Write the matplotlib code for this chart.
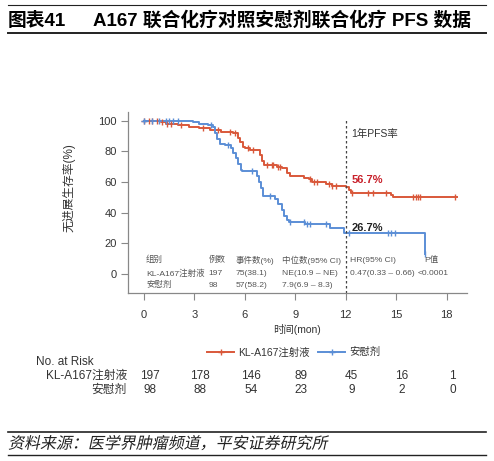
import numpy as np
import matplotlib
matplotlib.use('Agg')
import matplotlib.pyplot as plt
from matplotlib import transforms
from matplotlib.textpath import TextPath
from matplotlib.patches import PathPatch
from matplotlib.font_manager import FontProperties

plt.rcParams['font.family'] = ['Liberation Sans', 'Noto Sans CJK SC', 'DejaVu Sans']

# KM step data (month, PFS %)
red_t = [0, 1.0, 1.3, 2.0, 2.7, 3.3, 3.9, 4.6, 5.3, 5.6, 5.7, 5.9, 6.0, 6.3, 6.9, 7.0, 7.15,
         7.9, 8.2, 8.5, 8.7, 9.5, 9.8, 10.0, 10.8, 11.2, 12.0, 12.2, 12.3, 14.7, 14.8, 18.6]
red_v = [100, 99, 98, 97, 96, 95, 94, 93, 92, 89, 86, 83, 82, 81, 78, 74, 71,
         70, 69, 66, 64, 63, 62, 60, 58.5, 57.5, 56.7, 55, 53, 51.5, 50, 50]
blue_t = [0, 2.9, 3.3, 3.8, 4.1, 4.25, 4.35, 4.5, 4.8, 5.2, 5.3, 5.45, 5.6, 5.75, 5.85,
          6.75, 6.85, 6.95, 7.1, 7.8, 8.0, 8.2, 8.35, 8.5, 8.6, 9.6, 11.05, 11.9, 16.7]
blue_v = [100, 99, 98, 97, 96, 92, 88, 85, 84, 82, 79, 76, 72, 68, 67,
          64, 60, 56, 51, 49, 46, 42, 38, 35, 34, 32.5, 30, 26.7, 13]

red_cens = [0.3, 0.5, 0.8, 1.1, 1.4, 1.6, 2.2, 3.5, 4.4, 5.1, 5.4, 6.2, 6.5, 7.3, 7.6, 7.7,
            8.0, 8.1, 9.9, 10.1, 10.3, 11.0, 11.2, 11.4, 12.4, 13.3, 13.6, 14.4, 16.0,
            16.2, 16.3, 16.4, 18.5]
blue_cens = [0.5, 0.9, 1.3, 1.5, 1.7, 2.0, 4.0, 5.0, 6.4, 7.5, 8.7, 9.5, 9.7, 9.9, 10.8,
             12.2, 14.5, 14.7, 14.9, 16.7]

xticks = [0, 3, 6, 9, 12, 15, 18]
risk_red = [197, 178, 146, 89, 45, 16, 1]
risk_blue = [98, 88, 54, 23, 9, 2, 0]

group_names = ['KL-A167注射液', '安慰剂']
table_head = ['组别', '例数', '事件数(%)', '中位数(95% CI)', 'HR(95% CI)', 'P值']
table_rows = [['KL-A167注射液', '197', '75(38.1)', 'NE(10.9 – NE)', '0.47(0.33 – 0.66)', '<0.0001'],
              ['安慰剂', '98', '57(58.2)', '7.9(6.9 – 8.3)', '', '']]
source = '资料来源：医学界肿瘤频道，平安证券研究所'

red_c = '#d9583a'
blue_c = '#5b8ed6'

fig = plt.figure(figsize=(4.94, 4.61), dpi=100)

# header / footer
fig.add_artist(plt.Line2D([0.016, 0.984], [1 - 5 / 461] * 2, color='#222', lw=0.8))
fig.add_artist(plt.Line2D([0.016, 0.984], [1 - 33 / 461] * 2, color='#222', lw=1.4))
fig.text(0.016, 1 - 21 / 461, '图表41', fontsize=13.5, fontweight='bold', va='center')
fig.text(0.188, 1 - 21 / 461, 'A167 联合化疗对照安慰剂联合化疗 PFS 数据', fontsize=13.5,
         fontweight='bold', va='center')
fig.add_artist(plt.Line2D([0.016, 0.984], [1 - 432 / 461] * 2, color='#222', lw=1.2))
fig.add_artist(plt.Line2D([0.016, 0.984], [1 - 455 / 461] * 2, color='#222', lw=1.0))

# slanted source line (CJK font has no italic face)
try:
    tp = TextPath((0, 0), source, size=11.5 * 100 / 72,
                  prop=FontProperties(family=['Noto Sans CJK SC', 'DejaVu Sans']))
    src = PathPatch(tp, color='#222', lw=0,
                    transform=transforms.Affine2D().skew_deg(12, 0).translate(8, 12.5))
    fig.add_artist(src)
except Exception:
    fig.text(0.016, 1 - 443 / 461, source, fontsize=11.5, va='center')

ax = fig.add_axes([0.259, 0.364, 0.686, 0.394])


def surv_at(ts, vs, t):
    i = np.searchsorted(ts, t, side='right') - 1
    return np.array(vs)[i]


ax.step(red_t, red_v, where='post', color=red_c, lw=1.4, label=group_names[0],
        marker='+', markevery=[0], ms=4)
ax.step(blue_t, blue_v, where='post', color=blue_c, lw=1.4, label=group_names[1],
        marker='+', markevery=[0], ms=4)
ax.plot(red_cens, surv_at(red_t, red_v, red_cens), ls='none', marker='|', ms=4,
        mew=1.0, color=red_c)
ax.plot(blue_cens, surv_at(blue_t, blue_v, blue_cens), ls='none', marker='|', ms=4,
        mew=1.0, color=blue_c)

ax.vlines(12, -12.4, 101, colors='#444', linestyles=(0, (2, 2)), lw=0.9)
ax.text(12.35, 91.5, '1年PFS率', fontsize=7.5, color='#333', va='center')
ax.text(12.35, 61.5, '56.7%', fontsize=8, fontweight='bold', color='#c8202a', va='center')
ax.text(12.35, 30, '26.7%', fontsize=8, fontweight='bold', color='#222', va='center')

col_x = [0.13, 3.83, 5.45, 8.2, 12.25, 16.3]
row_y = [9.1, 0.5, -7.2]
for cx, txt in zip(col_x, table_head):
    if txt == 'P值':
        cx = 16.68
    ax.text(cx, row_y[0], txt, fontsize=6.1, color='#555', va='center')
for r, row in enumerate(table_rows):
    for cx, txt in zip(col_x, row):
        ax.text(cx, row_y[r + 1], txt, fontsize=6.1, color='#555', va='center')

ax.set_xlim(-0.95, 19.2)
ax.set_ylim(-12.4, 106)
ax.set_xticks(xticks)
ax.set_yticks([0, 20, 40, 60, 80, 100])
ax.spines['top'].set_visible(False)
ax.spines['right'].set_visible(False)
for s in ['left', 'bottom']:
    ax.spines[s].set_color('#888')
    ax.spines[s].set_linewidth(0.9)
ax.tick_params(axis='x', length=5, pad=7, color='#888', labelsize=8, labelcolor='#333')
ax.tick_params(axis='y', length=5, pad=3, color='#888', labelsize=8, labelcolor='#333')
ax.set_ylabel('无进展生存率(%)', fontsize=8.5, color='#333')
ax.yaxis.set_label_coords(-0.156, 0.58)
ax.set_xlabel('时间(mon)', fontsize=7.5, color='#333', labelpad=3)

ax.legend(loc='upper center', bbox_to_anchor=(0.49, -0.245), ncol=2, frameon=False,
          fontsize=7.5, handlelength=2.6, columnspacing=0.8, handletextpad=0.4,
          labelcolor='#333')

# number at risk
tr = transforms.blended_transform_factory(ax.transData, fig.transFigure)
fig.text(0.073, 1 - 362 / 461, 'No. at Risk', fontsize=8.5, color='#333', va='center')
fig.text(0.257, 1 - 376 / 461, group_names[0], fontsize=8.5, color='#333', va='center',
         ha='right')
fig.text(0.257, 1 - 390 / 461, group_names[1], fontsize=8.5, color='#333', va='center',
         ha='right')
for xt, a, b in zip(xticks, risk_red, risk_blue):
    ax.text(xt + 0.35, 1 - 376 / 461, str(a), transform=tr, fontsize=8.5, color='#333',
            ha='center', va='center', clip_on=False)
    ax.text(xt + 0.35, 1 - 390 / 461, str(b), transform=tr, fontsize=8.5, color='#333',
            ha='center', va='center', clip_on=False)

fig.savefig('out.png', dpi=100)
